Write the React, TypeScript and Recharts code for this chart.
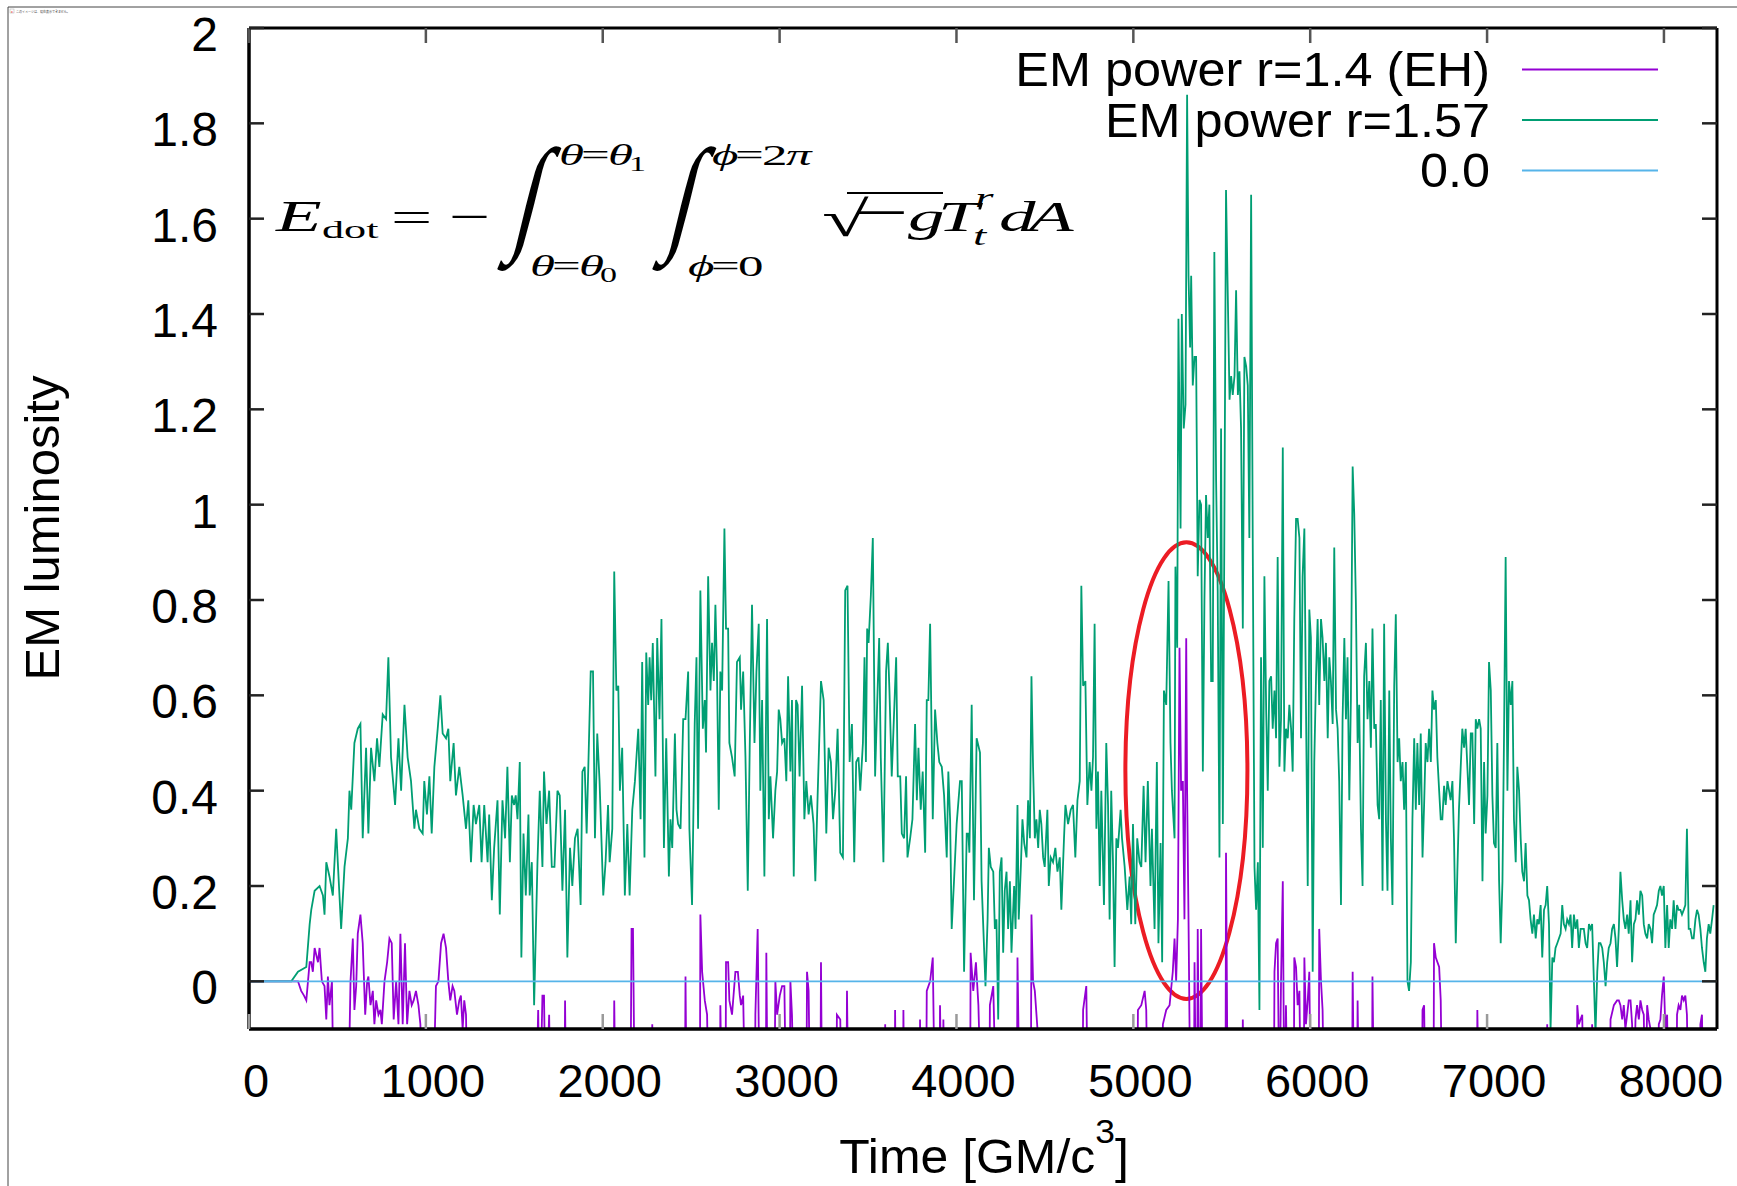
import React from 'react';
import { LineChart, Line, XAxis, YAxis, ReferenceArea } from 'recharts';

// ---------------- data (time [GM/c^3], EM luminosity) ----------------
const r157Pairs: number[][] = [
  [0,0],[200,0],[239,0],[277,0.02],[324,0.03],[343,0.12],[352,0.15],[371,0.19],[399,0.2],[418,0.18],[427,0.14],[437,0.25],[455,0.22],[474,0.18],[493,0.32],[502,0.25],[521,0.11],[540,0.24],[559,0.3],[568,0.4],[578,0.36],[596,0.5],[615,0.53],[630,0.54],[643,0.3],[662,0.49],[675,0.31],[690,0.49],[709,0.42],[724,0.51],[737,0.45],[756,0.56],[775,0.55],[788,0.68],[803,0.47],[826,0.37],[845,0.51],[860,0.4],[879,0.58],[897,0.47],[916,0.42],[935,0.32],[944,0.36],[963,0.32],[982,0.31],[991,0.42],[1006,0.35],[1020,0.43],[1033,0.31],[1048,0.45],[1067,0.53],[1082,0.6],[1095,0.52],[1114,0.51],[1127,0.53],[1138,0.42],[1157,0.5],[1170,0.39],[1189,0.45],[1208,0.39],[1227,0.32],[1240,0.38],[1255,0.25],[1270,0.37],[1283,0.33],[1302,0.37],[1315,0.25],[1330,0.37],[1349,0.25],
  [1358,0.35],[1373,0.17],[1386,0.28],[1405,0.38],[1418,0.14],[1433,0.38],[1448,0.3],[1461,0.45],[1475,0.25],[1486,0.39],[1499,0.37],[1508,0.39],[1518,0.34],[1531,0.46],[1540,0.05],[1552,0.31],[1565,0.18],[1580,0.35],[1587,0.18],[1599,0.25],[1612,-0.05],[1631,0.25],[1644,0.4],[1659,0.24],[1668,0.44],[1682,0.33],[1697,0.4],[1712,0.24],[1727,0.24],[1744,0.4],[1757,0.39],[1772,0.19],[1787,0.36],[1800,0.05],[1815,0.28],[1828,0.2],[1843,0.3],[1858,0.32],[1875,0.16],[1885,0.44],[1898,0.45],[1909,0.31],[1932,0.65],[1945,0.65],[1956,0.3],[1969,0.52],[1982,0.42],[2003,0.18],[2016,0.25],[2030,0.37],[2039,0.25],[2054,0.32],[2065,0.86],[2077,0.61],[2088,0.62],[2097,0.4],[2110,0.49],[2125,0.18],[2139,0.33],[2152,0.18],[2167,0.36],[2182,0.42],[2201,0.53],[2214,0.34],[2223,0.67],[2236,0.26],[2246,0.69],[2257,0.58],[2265,0.68],[2274,0.59],[2283,0.71],[2298,0.43],[2308,0.72],[2321,0.55],[2332,0.76],[2346,0.28],[2359,0.51],[2374,0.22],[2383,0.34],[2393,0.28],[2408,0.52],[2417,0.36],[2426,0.33],[2440,0.32],[2455,0.55],[2468,0.55],[2483,0.65],[2490,0.32],[2505,0.16],[2520,0.54],[2530,0.68],[2539,0.32],[2552,0.82],[2566,0.53],[2577,0.59],[2584,0.48],[2596,0.85],[2609,0.61],[2618,0.71],[2628,0.63],[2637,0.79],[2646,0.65],[2656,0.36],[2665,0.65],[2675,0.61],[2688,0.95],[2697,0.74],[2709,0.74],[2716,0.5],[2731,0.47],[2746,0.43],[2759,0.67],
  [2775,0.68],[2782,0.57],[2794,0.65],[2807,0.47],[2820,0.19],[2831,0.49],[2844,0.79],[2858,0.5],[2869,0.65],[2882,0.75],[2891,0.4],[2901,0.59],[2914,0.22],[2929,0.76],[2939,0.34],[2948,0.43],[2963,0.3],[2976,0.4],[2986,0.44],[2995,0.57],[3004,0.55],[3014,0.5],[3027,0.51],[3038,0.42],[3048,0.64],[3061,0.44],[3070,0.59],[3080,0.22],[3093,0.59],[3102,0.58],[3113,0.43],[3127,0.62],[3140,0.34],[3151,0.42],[3164,0.35],[3177,0.39],[3192,0.33],[3202,0.21],[3215,0.39],[3234,0.63],[3249,0.59],[3264,0.31],[3277,0.49],[3290,0.46],[3302,0.34],[3315,0.4],[3328,0.53],[3343,0.27],[3358,0.26],[3371,0.82],[3384,0.83],[3396,0.46],[3409,0.54],[3422,0.25],[3433,0.46],[3446,0.47],[3456,0.4],[3471,0.5],[3480,0.68],[3488,0.46],[3495,0.74],[3503,0.71],[3516,0.81],[3527,0.93],[3540,0.43],[3550,0.56],[3563,0.72],[3572,0.47],[3587,0.25],[3602,0.65],[3612,0.71],[3621,0.61],[3634,0.43],[3644,0.53],[3659,0.68],[3668,0.43],[3682,0.43],[3691,0.31],[3704,0.3],[3715,0.43],[3723,0.26],[3738,0.3],[3751,0.34],[3766,0.54],[3776,0.38],[3785,0.49],[3798,0.36],[3809,0.44],[3823,0.27],[3832,0.59],[3841,0.59],[3851,0.75],[3866,0.34],[3879,0.57],[3892,0.5],[3903,0.46],[3917,0.45],[3930,0.39],[3945,0.26],[3954,0.44],[3964,0.34],[3973,0.11],[3986,0.21],[4001,0.33],[4020,0.42],[4030,0.42],[4043,0.02],[4058,0.31],[4067,0.31],[4073,0.27],[4086,0.58],[4099,0.17],[4114,0.51],[4133,0.48],[4142,0.21],
  [4164,-0.01],[4176,0.13],[4183,0.28],[4194,0.24],[4208,0.23],[4217,0.11],[4226,0.13],[4236,-0.08],[4245,0.23],[4255,0.26],[4264,0.06],[4273,0.19],[4283,0.23],[4292,0.11],[4302,0.21],[4311,0.06],[4326,0.2],[4334,0.11],[4345,0.37],[4352,0.13],[4364,0.24],[4373,0.34],[4383,0.29],[4396,0.26],[4405,0.38],[4415,0.3],[4424,0.64],[4433,0.45],[4443,0.3],[4452,0.34],[4462,0.28],[4471,0.36],[4480,0.33],[4490,0.26],[4499,0.24],[4514,0.36],[4522,0.2],[4533,0.26],[4546,0.25],[4559,0.28],[4571,0.23],[4584,0.26],[4593,0.15],[4608,0.3],[4616,0.37],[4631,0.33],[4646,0.36],[4659,0.37],[4672,0.26],[4684,0.38],[4697,0.42],[4706,0.83],[4716,0.62],[4729,0.63],[4740,0.37],[4753,0.46],[4763,0.4],[4772,0.47],[4781,0.75],[4791,0.32],[4800,0.44],[4810,0.2],[4819,0.4],[4834,0.16],[4847,0.5],[4857,0.37],[4866,0.13],[4875,0.4],[4885,0.25],[4894,0.03],[4904,0.3],[4913,0.28],[4928,0.36],[4936,0.3],[4951,0.24],[4966,0.15],[4979,0.22],[4988,0.12],[4998,0.33],[5011,0.12],[5022,0.3],[5035,0.25],[5045,0.24],[5058,0.41],[5069,0.25],[5082,0.42],[5097,0.2],[5105,0.32],[5120,0.11],[5133,0.46],[5142,0.08],[5154,0.29],[5163,0.04],[5173,0.61],[5186,0.58],[5199,0.84],[5210,0.5],[5218,0.4],[5233,0.3],[5238,0.87],[5248,0.7],[5255,1.39],[5267,0.95],[5274,1.4],[5285,1.16],[5295,1.21],[5304,1.86],[5312,1.48],[5321,1.33],[5327,1.48],[5336,1.25],[5346,1.31],[5355,1.31],[5364,0.85],[5374,1.01],[5383,1.0],[5393,0.44],[5402,0.8],[5411,1.02],[5421,0.93],[5430,1.0],[5440,0.63],[5449,0.63],[5458,1.53],[5468,1.05],[5477,0.82],[5487,0.26],[5496,1.16],[5506,0.33],[5515,0.97],[5524,1.66],
  [5544,1.22],[5553,1.27],[5562,1.23],[5572,1.27],[5581,1.45],[5591,1.23],[5600,1.28],[5609,1.16],[5619,0.74],[5628,1.31],[5638,1.29],[5647,1.25],[5656,0.93],[5666,1.65],[5675,0.93],[5685,0.24],[5694,0.15],[5704,0.25],[5713,-0.06],[5722,0.68],[5732,0.28],[5741,0.85],[5751,0.57],[5760,0.4],[5769,0.63],[5779,0.64],[5788,0.53],[5798,0.61],[5807,0.51],[5816,0.89],[5826,0.45],[5835,0.55],[5845,1.12],[5854,0.44],[5863,0.53],[5873,0.51],[5882,0.58],[5892,0.53],[5901,0.44],[5910,0.76],[5920,0.97],[5929,0.97],[5939,0.93],[5948,0.51],[5957,0.85],[5967,0.95],[5976,0.58],[5986,0.2],[5995,0.78],[6004,0.72],[6014,0.02],[6023,0.46],[6033,0.64],[6042,0.76],[6051,0.58],[6061,0.76],[6070,0.72],[6080,0.63],[6089,0.71],[6099,0.51],[6108,0.68],[6117,0.63],[6127,0.54],[6136,0.91],[6146,0.57],[6155,0.53],[6164,0.42],[6174,0.16],[6183,0.55],[6193,0.72],[6202,0.55],[6211,0.68],[6221,0.38],[6230,0.59],[6240,1.08],[6249,0.98],[6258,0.8],[6268,0.5],[6277,0.58],[6287,0.32],[6296,0.2],[6305,0.64],[6315,0.71],[6324,0.55],[6334,0.63],[6343,0.49],[6352,0.74],[6362,0.53],[6371,0.54],[6381,0.37],[6390,0.34],[6399,0.59],[6409,0.19],[6418,0.75],[6428,0.34],[6437,0.19],[6447,0.61],[6456,0.3],[6465,0.16],[6475,0.62],[6484,0.77],[6494,0.46],[6503,0.51],[6512,0.42],[6522,0.46],[6531,0.36],[6541,0.46],[6550,0.0],[6559,-0.02],[6569,0.04],[6578,0.34],[6588,0.51],[6597,0.36],[6606,0.5],[6616,0.37],[6625,0.52],[6635,0.26],[6644,0.37],[6653,0.5],[6663,0.46],[6672,0.53],[6682,0.46],[6691,0.61],[6700,0.57],[6710,0.59],[6719,0.47],[6729,0.4],[6738,0.34],[6747,0.34],[6757,0.41],[6766,0.37],[6776,0.42],[6785,0.4],[6794,0.38],[6804,0.42],[6813,0.3],[6823,0.08],[6832,0.23],[6841,0.36],[6851,0.45],[6860,0.53],[6870,0.49],[6879,0.53],
  [6898,0.37],[6908,0.52],[6917,0.52],[6927,0.33],[6936,0.55],[6945,0.53],[6955,0.55],[6964,0.53],[6974,0.21],[6983,0.46],[6992,0.31],[7002,0.39],[7011,0.67],[7021,0.61],[7030,0.39],[7039,0.29],[7049,0.28],[7058,0.5],[7068,0.21],[7077,0.08],[7087,0.21],[7096,0.52],[7105,0.89],[7115,0.4],[7124,0.63],[7134,0.58],[7143,0.63],[7152,0.34],[7162,0.25],[7171,0.45],[7181,0.4],[7190,0.3],[7199,0.23],[7209,0.21],[7218,0.29],[7228,0.18],[7237,0.17],[7246,0.13],[7256,0.1],[7265,0.14],[7275,0.09],[7284,0.13],[7293,0.12],[7303,0.16],[7312,0.05],[7322,0.15],[7331,0.16],[7340,0.2],[7350,0.12],[7359,-0.1],[7369,0.05],[7378,0.04],[7387,0.07],[7397,0.08],[7416,0.1],[7425,0.16],[7434,0.12],[7444,0.11],[7453,0.13],[7463,0.12],[7472,0.14],[7481,0.07],[7491,0.14],[7500,0.11],[7510,0.13],[7519,0.07],[7529,0.11],[7538,0.11],[7547,0.11],[7557,0.08],[7566,0.07],[7576,0.12],[7585,0.11],[7594,0.12],[7604,0.0],[7613,-0.11],[7623,0.02],[7632,0.08],[7641,0.08],[7651,0.07],[7660,0.04],[7670,-0.01],[7679,0.04],[7688,0.07],[7698,0.08],[7707,0.11],[7717,0.12],[7726,0.09],[7735,0.03],[7745,0.11],[7754,0.23],[7764,0.17],[7773,0.13],[7782,0.11],[7792,0.14],[7801,0.1],[7811,0.17],[7820,0.04],[7830,0.12],[7839,0.13],[7848,0.17],[7858,0.14],[7867,0.19],[7877,0.18],[7886,0.12],[7895,0.1],[7905,0.09],[7914,0.12],[7924,0.11],[7933,0.08],[7942,0.14],[7952,0.15],[7961,0.16],[7971,0.19],[7980,0.2],[7989,0.18],[7999,0.2],[8008,0.07],[8018,0.16],[8027,0.07],[8036,0.13],[8046,0.11],[8055,0.17],[8065,0.11],[8074,0.16],[8083,0.15],[8093,0.15],[8102,0.14],[8112,0.15],[8121,0.16],[8130,0.32],[8140,0.11],[8149,0.11],[8159,0.09],[8168,0.09],[8178,0.13],[8187,0.15],[8196,0.14],[8206,0.11],[8215,0.07],[8225,0.04],[8234,0.02],[8243,0.09],[8253,0.12],[8262,0.1],[8272,0.13],[8281,0.16],
];

const r14Pairs: number[][] = [
  [0,0],[239,0],[277,0],[295,-0.02],[311,-0.03],[324,-0.04],[343,0.04],[352,0.04],[361,0.02],[371,0.07],[390,0.04],[399,0.07],[412,0],[427,-0.01],[437,-0.08],[446,0.01],[455,-0.05],[469,0],[480,-0.3],[559,-0.3],[574,0],[587,0.09],[596,-0.06],[606,-0.01],[615,0.1],[630,0.14],[643,0.08],[657,-0.07],[668,0],[675,0.01],[687,-0.05],[700,-0.02],[709,-0.09],[719,-0.04],[732,-0.07],[743,-0.06],[751,-0.09],[766,0],[781,0.04],[794,0.09],[807,0.08],[818,-0.08],[832,0],[845,-0.09],[856,0.1],[869,-0.09],[882,0.08],[894,-0.09],[907,-0.02],[920,-0.05],[931,-0.04],[944,-0.02],[958,-0.05],[969,-0.09],[982,-0.3],[1038,-0.3],[1057,-0.01],[1071,0],[1086,0.08],[1100,0.1],[1114,0.07],[1127,0],[1138,-0.04],[1151,-0.01],[1161,-0.02],[1176,-0.07],[1189,-0.04],[1198,-0.03],[1208,-0.1],[1217,-0.04],[1227,-0.07],[1236,-0.3],
  [1621,-0.3],[1635,-0.06],[1644,-0.3],[1659,-0.03],[1668,-0.03],[1678,-0.3],[1697,-0.07],[1706,-0.3],[1744,-0.1],[1753,-0.3],[1783,-0.3],[1787,-0.04],[1794,-0.3],[2061,-0.3],[2065,-0.04],[2073,-0.3],[2156,-0.3],[2163,0.11],[2171,0.11],[2182,-0.3],[2276,-0.3],[2280,-0.09],[2287,-0.3],[2464,-0.3],[2468,0.01],[2475,-0.3],[2549,-0.3],[2552,0.14],[2562,0.02],[2577,-0.04],[2590,-0.07],[2600,-0.3],[2662,-0.3],[2665,-0.05],[2675,-0.3],[2694,-0.3],[2697,0.04],[2709,0.04],[2716,-0.04],[2731,-0.07],[2750,0.02],[2764,0.02],[2775,-0.03],[2782,-0.05],[2794,-0.03],[2807,-0.3],[2860,-0.3],[2863,-0.07],[2876,0.11],[2888,-0.3],[2922,-0.3],[2925,0.06],[2933,-0.3],[2970,-0.3],[2976,0],[2986,-0.07],[3001,-0.03],[3014,-0.01],[3027,-0.01],[3038,-0.3],[3057,-0.3],[3061,0],[3070,-0.07],[3083,-0.3],[3151,-0.3],[3155,0.02],[3164,-0.02],[3174,-0.3],[3230,-0.3],[3234,0.04],[3241,-0.3],[3320,-0.3],[3324,-0.07],[3343,-0.08],[3352,-0.3],[3377,-0.3],[3381,-0.02],[3390,-0.3],[3593,-0.3],[3597,-0.09],[3602,-0.3],[3650,-0.3],[3653,-0.06],[3659,-0.3],[3697,-0.3],[3700,-0.06],[3706,-0.3],[3791,-0.3],[3794,-0.08],[3800,-0.3],[3828,-0.3],[3832,-0.02],[3851,0],[3866,0.05],[3879,-0.3],[3903,-0.3],[3907,-0.05],[3917,-0.3],[3922,-0.3],[3926,-0.08],[3934,-0.3],[4077,-0.3],[4080,0.06],[4095,-0.02],[4110,0.04],[4124,-0.05],[4142,-0.3],
  [4185,-0.3],[4189,-0.05],[4208,-0.01],[4226,-0.3],[4341,-0.3],[4345,0.05],[4358,-0.3],[4420,-0.3],[4424,0.14],[4433,0],[4443,-0.02],[4458,-0.1],[4465,-0.3],[4712,-0.3],[4716,-0.06],[4734,-0.01],[4744,-0.3],[5022,-0.3],[5026,-0.06],[5045,-0.05],[5064,-0.02],[5073,-0.06],[5082,-0.3],[5163,-0.3],[5167,-0.09],[5186,-0.06],[5205,-0.05],[5223,0.02],[5233,0.09],[5242,0],[5252,0.13],[5261,0.7],[5270,0.4],[5280,0.42],[5289,0.13],[5299,0.72],[5304,0.4],[5312,0.13],[5323,-0.3],[5342,-0.3],[5346,0.04],[5355,-0.3],[5361,-0.3],[5364,0.11],[5374,-0.3],[5380,-0.3],[5383,0.11],[5393,-0.3],[5521,-0.3],[5524,0.27],[5534,-0.3],[5615,-0.3],[5619,-0.08],[5628,-0.3],[5794,-0.3],[5798,0.02],[5807,0.08],[5816,0.09],[5826,-0.3],[5835,0],[5845,0.21],[5854,-0.3],[5863,-0.05],[5873,-0.3],[5907,-0.3],[5910,0.05],[5920,0.03],[5929,-0.05],[5939,-0.02],[5948,-0.3],[5963,-0.3],[5967,0.05],[5976,-0.09],[5986,-0.04],[5995,0.02],[6004,-0.3],[6048,-0.3],[6051,0.11],[6061,0],[6070,-0.06],[6080,-0.3],[6236,-0.3],[6240,0.02],[6249,-0.3],[6264,-0.3],[6268,-0.04],[6277,-0.3],[6349,-0.3],[6352,0.01],[6362,-0.3],[6462,-0.3],[6465,-0.1],[6469,-0.3],[6631,-0.3],[6635,-0.06],[6644,-0.05],[6653,-0.3],[6697,-0.3],[6700,0.08],[6710,0.05],[6729,0.03],[6738,-0.04],[6747,-0.3],
  [6942,-0.3],[6945,-0.06],[6955,-0.3],[7337,-0.3],[7340,-0.09],[7346,-0.3],[7506,-0.3],[7510,-0.05],[7519,-0.09],[7538,-0.07],[7547,-0.3],[7591,-0.3],[7594,-0.09],[7600,-0.3],[7694,-0.3],[7698,-0.08],[7717,-0.05],[7735,-0.04],[7745,-0.04],[7754,-0.05],[7764,-0.08],[7773,-0.05],[7782,-0.1],[7792,-0.07],[7801,-0.04],[7811,-0.04],[7820,-0.09],[7830,-0.3],[7839,-0.08],[7848,-0.05],[7858,-0.08],[7867,-0.04],[7877,-0.06],[7886,-0.07],[7895,-0.3],[7905,-0.05],[7914,-0.08],[7924,-0.1],[7933,-0.3],[7967,-0.3],[7971,-0.09],[7980,-0.08],[7989,-0.03],[7999,0.01],[8008,-0.1],[8018,-0.07],[8027,-0.3],[8070,-0.3],[8074,-0.07],[8083,-0.05],[8093,-0.06],[8102,-0.03],[8112,-0.04],[8121,-0.03],[8130,-0.07],[8140,-0.3],[8202,-0.3],[8206,-0.09],[8215,-0.07],[8225,-0.3],[8281,-0.3],
];

const zeroPairs: number[][] = [[0, 0], [8300, 0]];

const xDomain = [0, 8300];
const yDomain = [-0.1, 2];
const xTicks = [0, 1000, 2000, 3000, 4000, 5000, 6000, 7000, 8000];
const yTicks = [0, 0.2, 0.4, 0.6, 0.8, 1, 1.2, 1.4, 1.6, 1.8, 2];
const legendLabels = ['EM power r=1.4 (EH)', 'EM power r=1.57', '0.0'];
const highlightTime = [4955, 5645];
const highlightLum = [-0.037, 0.921];

// ---------------- style ----------------
const W = 1737;
const H = 1186;
const SANS = "'Liberation Sans', Arial, Helvetica, sans-serif";
const SERIF = "'Liberation Serif', 'Times New Roman', serif";
const PURPLE = '#9400d3';
const GREEN = '#009e73';
const BLUE = '#56b4e9';

const toRows = (pairs: number[][]) => pairs.map(([t, v]) => ({ t, v }));
const r14Data = toRows(r14Pairs);
const r157Data = toRows(r157Pairs);
const zeroData = toRows(zeroPairs);

const fmt = (v: number) => String(v);

const BottomTick = (p: any) => (
  <g>
    <line x1={p.x} y1={p.y} x2={p.x} y2={p.y - 15} stroke="#9a9a9a" strokeWidth={2.5} />
    <text x={p.x + 7} y={p.y + 68} textAnchor="middle" fontFamily={SANS} fontSize={47} fill="#000">
      {fmt(p.payload.value)}
    </text>
  </g>
);
const TopTick = (p: any) => (
  <line x1={p.x} y1={p.y} x2={p.x} y2={p.y + 15} stroke="#555" strokeWidth={2.5} />
);
const LeftTick = (p: any) => (
  <g>
    <line x1={p.x} y1={p.y} x2={p.x + 15} y2={p.y} stroke="#222" strokeWidth={2.5} />
    <text x={p.x - 31} y={p.y + 23} textAnchor="end" fontFamily={SANS} fontSize={48} fill="#000">
      {fmt(p.payload.value)}
    </text>
  </g>
);
const RightTick = (p: any) => (
  <line x1={p.x} y1={p.y} x2={p.x - 15} y2={p.y} stroke="#222" strokeWidth={2.5} />
);

const EllipseShape = (p: any) => (
  <ellipse
    cx={p.x + p.width / 2}
    cy={p.y + p.height / 2}
    rx={Math.abs(p.width) / 2}
    ry={Math.abs(p.height) / 2}
    fill="none"
    stroke="#ec1c24"
    strokeWidth={4}
  />
);

// formula: glyphs stretched horizontally like the reference
const FX = 275;
const SX = 1.7;
const fx = (X: number) => (X - FX) / SX;

const Integral = ({ x }: { x: number }) => (
  <text
    x={0} y={0}
    transform={`translate(${x} 237) skewX(-14) scale(1.45 2.05)`}
    fontFamily={SERIF} fontSize={62} fill="#000"
  >∫</text>
);

const Formula = () => (
  <g>
    <g transform={`translate(${FX} 0) scale(${SX} 1)`} fontFamily={SERIF} fill="#000">
      <text x={fx(276)} y={231} fontSize={44} fontStyle="italic">E</text>
      <text x={fx(322)} y={238} fontSize={26}>dot</text>
      <text x={fx(391)} y={231} fontSize={43}>=</text>
      <text x={fx(449)} y={231} fontSize={43}>−</text>
      <text x={fx(559)} y={165} fontSize={30} fontStyle="italic">θ</text>
      <text x={fx(581)} y={165} fontSize={30}>=</text>
      <text x={fx(608)} y={165} fontSize={30} fontStyle="italic">θ</text>
      <text x={fx(629)} y={171} fontSize={20}>1</text>
      <text x={fx(530)} y={276} fontSize={30} fontStyle="italic">θ</text>
      <text x={fx(552)} y={276} fontSize={30}>=</text>
      <text x={fx(579)} y={276} fontSize={30} fontStyle="italic">θ</text>
      <text x={fx(600)} y={282} fontSize={20}>0</text>
      <text x={fx(712)} y={165} fontSize={30} fontStyle="italic">ϕ</text>
      <text x={fx(735)} y={165} fontSize={30}>=</text>
      <text x={fx(762)} y={165} fontSize={30}>2</text>
      <text x={fx(786)} y={165} fontSize={30} fontStyle="italic">π</text>
      <text x={fx(688)} y={276} fontSize={30} fontStyle="italic">ϕ</text>
      <text x={fx(711)} y={276} fontSize={30}>=</text>
      <text x={fx(738)} y={276} fontSize={30}>0</text>
      <text x={fx(822)} y={236} fontSize={50}>√</text>
      <text x={fx(853)} y={232} fontSize={58}>−</text>
      <text x={fx(908)} y={231} fontSize={43} fontStyle="italic">g</text>
      <text x={fx(938)} y={231} fontSize={43} fontStyle="italic">T</text>
      <text x={fx(975)} y={207} fontSize={28} fontStyle="italic">r</text>
      <text x={fx(973)} y={245} fontSize={28} fontStyle="italic">t</text>
      <text x={fx(999)} y={231} fontSize={43} fontStyle="italic">d</text>
      <text x={fx(1029)} y={231} fontSize={43} fontStyle="italic">A</text>
    </g>
    <line x1={847} y1={193} x2={943} y2={193} stroke="#000" strokeWidth={2} />
    <Integral x={510} />
    <Integral x={665} />
  </g>
);

const legendColors = [PURPLE, GREEN, BLUE];

export default function App() {
  return (
    <div style={{ position: 'absolute', left: 0, top: 0, width: W, height: H, background: '#fff' }}>
      <LineChart width={W} height={H} margin={{ top: 27, right: 19, bottom: 0, left: 0 }}>
        <XAxis
          xAxisId="b" type="number" dataKey="t" domain={xDomain} allowDataOverflow
          ticks={xTicks} interval={0} height={157} tickSize={0} tickMargin={0} tickLine={false}
          axisLine={{ stroke: '#000', strokeWidth: 3.5 }} tick={(p: any) => <BottomTick {...p} />}
        />
        <XAxis
          xAxisId="t" orientation="top" type="number" dataKey="t" domain={xDomain} allowDataOverflow
          ticks={xTicks} interval={0} height={1} tickSize={0} tickMargin={0} tickLine={false}
          axisLine={{ stroke: '#000', strokeWidth: 3 }} tick={(p: any) => <TopTick {...p} />}
        />
        <YAxis
          yAxisId="l" type="number" domain={yDomain} allowDataOverflow
          ticks={yTicks} interval={0} width={249} tickSize={0} tickMargin={0} tickLine={false}
          axisLine={{ stroke: '#000', strokeWidth: 3.5 }} tick={(p: any) => <LeftTick {...p} />}
        />
        <YAxis
          yAxisId="r" orientation="right" type="number" domain={yDomain} allowDataOverflow
          ticks={yTicks} interval={0} width={1} tickSize={0} tickMargin={0} tickLine={false}
          axisLine={{ stroke: '#000', strokeWidth: 3 }} tick={(p: any) => <RightTick {...p} />}
        />
        <Line xAxisId="b" yAxisId="l" data={r14Data} dataKey="v" type="linear" stroke={PURPLE}
          strokeWidth={1.8} dot={false} activeDot={false} isAnimationActive={false} />
        <Line xAxisId="b" yAxisId="l" data={r157Data} dataKey="v" type="linear" stroke={GREEN}
          strokeWidth={1.8} dot={false} activeDot={false} isAnimationActive={false} />
        <Line xAxisId="b" yAxisId="l" data={zeroData} dataKey="v" type="linear" stroke={BLUE}
          strokeWidth={1.8} dot={false} activeDot={false} isAnimationActive={false} />
        <ReferenceArea
          xAxisId="b" yAxisId="l" x1={highlightTime[0]} x2={highlightTime[1]}
          y1={highlightLum[0]} y2={highlightLum[1]} ifOverflow="visible"
          shape={(p: any) => <EllipseShape {...p} />}
        />
      </LineChart>
      <svg
        width={W} height={H}
        style={{ position: 'absolute', left: 0, top: 0, pointerEvents: 'none' }}
      >
        {/* outer frame and broken-image note */}
        <line x1={8} y1={7} x2={W} y2={7} stroke="#444" strokeWidth={1} />
        <line x1={8} y1={7} x2={8} y2={H} stroke="#444" strokeWidth={1} />
        <rect x={10} y={9} width={4} height={4} fill="none" stroke="#aaa" strokeWidth={0.5} />
        <text x={11} y={12.5} fontSize={3.5} fill="#e00" fontFamily={SANS}>x</text>
        <text x={16} y={12.5} fontSize={3} fill="#444" fontFamily="'Noto Sans CJK JP', sans-serif">
          このイメージは、現在表示できません。
        </text>

        {/* legend */}
        {legendLabels.map((label, i) => (
          <g key={label}>
            <g transform={`translate(1490 ${86 + i * 50.5}) scale(1.05 1)`}>
              <text x={0} y={0} textAnchor="end" fontFamily={SANS} fontSize={48} fill="#000">
                {label}
              </text>
            </g>
            <line x1={1522} y1={69.5 + i * 50.5} x2={1658} y2={69.5 + i * 50.5}
              stroke={legendColors[i]} strokeWidth={2} />
          </g>
        ))}

        {/* axis titles */}
        <text x={59} y={528} transform="rotate(-90 59 528)" textAnchor="middle"
          fontFamily={SANS} fontSize={49} fill="#000">EM luminosity</text>
        <g transform="translate(984 1173) scale(1.04 1)">
          <text x={0} y={0} textAnchor="middle" fontFamily={SANS} fontSize={48} fill="#000">
            Time [GM/c<tspan fontSize={34} dy={-30}>3</tspan><tspan dy={30}>]</tspan>
          </text>
        </g>

        <Formula />
      </svg>
    </div>
  );
}
